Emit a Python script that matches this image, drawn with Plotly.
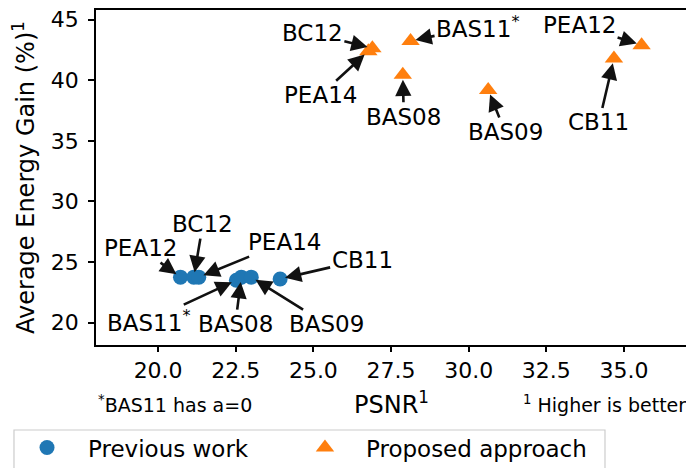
import plotly.graph_objects as go

# ---- data ----
methods = ["PEA12", "BC12", "PEA14", "BAS11", "BAS08", "BAS09", "CB11"]
prev_psnr = [20.72, 21.15, 21.31, 22.52, 22.68, 23.00, 23.93]
prev_gain = [23.75, 23.75, 23.75, 23.5, 23.75, 23.75, 23.6]
prop_psnr = [35.57, 26.90, 26.77, 28.13, 27.88, 30.63, 34.68]
prop_gain = [42.9, 42.65, 42.4, 43.25, 40.45, 39.2, 41.8]
x_ticks = [20.0, 22.5, 25.0, 27.5, 30.0, 32.5, 35.0]
y_ticks = [20, 25, 30, 35, 40, 45]
label_text = {"BAS11": "BAS11<sup>*</sup>"}

# ---- label placement (pixel offsets of text centre from the point) ----
prev_offsets = {
    "PEA12": (-40, -29), "BC12": (9, -53), "PEA14": (86, -35),
    "BAS11": (-88, 41), "BAS08": (-6, 47), "BAS09": (75, 47), "CB11": (82, -19),
}
prop_offsets = {
    "PEA12": (-62, -20), "BC12": (-60, -15), "PEA14": (-48, 44),
    "BAS11": (67, -14), "BAS08": (1, 42), "BAS09": (17, 42), "CB11": (-15, 64),
}

FONT = "DejaVu Sans"
BLUE = "#1f77b4"
ORANGE = "#ff7f0e"

fig = go.Figure()
fig.add_trace(go.Scatter(
    x=prev_psnr, y=prev_gain, mode="markers", name="Previous work",
    marker=dict(symbol="circle", size=15, color=BLUE), legend="legend",
))
fig.add_trace(go.Scatter(
    x=prop_psnr, y=prop_gain, mode="markers", name="Proposed approach",
    marker=dict(symbol="triangle-up", size=16, color=ORANGE), legend="legend2",
))

annotations = []
for xs, ys, offs in ((prev_psnr, prev_gain, prev_offsets), (prop_psnr, prop_gain, prop_offsets)):
    for m, xv, yv in zip(methods, xs, ys):
        ax, ay = offs[m]
        annotations.append(dict(
            x=xv, y=yv, xref="x", yref="y", ax=ax, ay=ay,
            text=label_text.get(m, m), showarrow=True,
            arrowhead=2, arrowsize=1.25, arrowwidth=2.6, arrowcolor="#111111",
            standoff=5, font=dict(family=FONT, size=23, color="black"),
        ))

# axis title and footnotes
annotations += [
    dict(text="PSNR<sup>1</sup>", x=0.5, y=-0.173, xref="paper", yref="paper",
         showarrow=False, xanchor="center", yanchor="middle",
         font=dict(family=FONT, size=24, color="black")),
    dict(text="<sup>*</sup>BAS11 has a=0", x=0.0, y=-0.175, xref="paper", yref="paper",
         showarrow=False, xanchor="left", yanchor="middle",
         font=dict(family=FONT, size=19, color="black")),
    dict(text="<sup>1</sup> Higher is better", x=1.004, y=-0.175, xref="paper", yref="paper",
         showarrow=False, xanchor="right", yanchor="middle",
         font=dict(family=FONT, size=19, color="black")),
]

legend_style = dict(
    orientation="h", y=-0.242, xanchor="left", yanchor="top",
    borderwidth=0, bgcolor="rgba(0,0,0,0)", font=dict(family=FONT, size=23),
    itemwidth=72,
)

# the page body has an 8px default margin, so the figure is sized to fit the window
fig.update_layout(
    width=686, height=460,
    margin=dict(l=88, r=8, t=2, b=123, autoexpand=False),
    paper_bgcolor="white", plot_bgcolor="white",
    font=dict(family=FONT, size=22, color="black"),
    showlegend=True,
    legend=dict(x=-0.1525, **legend_style),
    legend2=dict(x=0.3186, **legend_style),
    annotations=annotations,
    shapes=[dict(
        type="rect", xref="paper", yref="paper",
        x0=-0.139, x1=0.8627, y0=-0.2537, y1=-0.6,
        line=dict(color="#cccccc", width=1.2), fillcolor="rgba(0,0,0,0)", layer="below",
    )],
)
fig.update_xaxes(
    range=[18.0, 37.0], tickvals=x_ticks, ticktext=[f"{v:.1f}" for v in x_ticks],
    showgrid=False, zeroline=False, showline=True, linecolor="black", linewidth=1.5,
    mirror=True, ticks="outside", ticklen=5, tickwidth=1.5, tickcolor="black",
    tickfont=dict(family=FONT, size=22), automargin=False, ticklabelstandoff=0,
    ticklabeloverflow="allow",
)
fig.update_yaxes(
    range=[18.15, 45.8], tickvals=y_ticks,
    showgrid=False, zeroline=False, showline=True, linecolor="black", linewidth=1.5,
    mirror=True, ticks="outside", ticklen=6, tickwidth=1.5, tickcolor="black",
    tickfont=dict(family=FONT, size=22), automargin=False, ticklabelstandoff=5,
    ticklabeloverflow="allow",
    title=dict(text="Average Energy Gain (%)<sup>1</sup>", font=dict(family=FONT, size=24), standoff=9),
)

fig.write_html("out.html")
